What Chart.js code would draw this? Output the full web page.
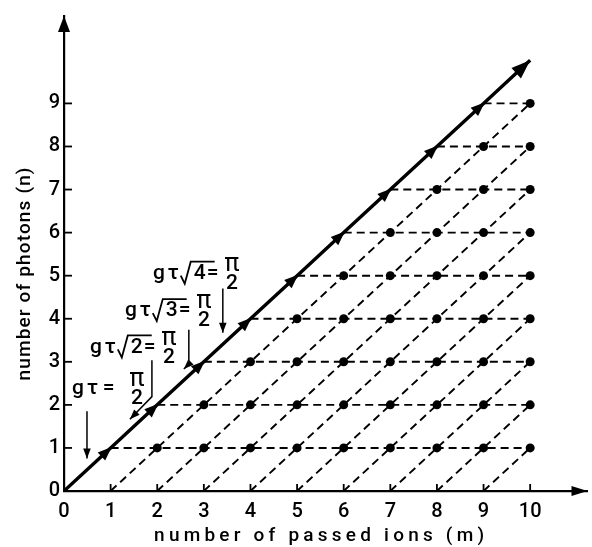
<!DOCTYPE html>
<html><head><meta charset="utf-8">
<script src="https://cdn.jsdelivr.net/npm/chart.js@4.4.1/dist/chart.umd.min.js"></script>
<style>html,body{margin:0;padding:0;background:#fff}#wrap{position:relative;width:592px;height:547px}</style>
</head><body><div id="wrap"><canvas id="c" width="592" height="547"></canvas></div>
<script>
// ---- data ----
const xTickValues = [0, 1, 2, 3, 4, 5, 6, 7, 8, 9, 10];
const yTickValues = [0, 1, 2, 3, 4, 5, 6, 7, 8, 9];
const mainPathIons = [0, 1, 2, 3, 4, 5, 6, 7, 8, 9, 10];
const mainPathPhotons = [0, 1, 2, 3, 4, 5, 6, 7, 8, 9, 10];
const photonLevels = [1, 2, 3, 4, 5, 6, 7, 8, 9];     // horizontal dashed rows start on the diagonal
const ionStarts = [1, 2, 3, 4, 5, 6, 7, 8, 9];        // diagonal dashed lines start on the m axis
const lastIon = 10;
const dotIonsByLevel = [
  [2, 3, 4, 5, 6, 7, 8, 9, 10],
  [3, 4, 5, 6, 7, 8, 9, 10],
  [4, 5, 6, 7, 8, 9, 10],
  [5, 6, 7, 8, 9, 10],
  [6, 7, 8, 9, 10],
  [7, 8, 9, 10],
  [8, 9, 10],
  [9, 10],
  [10]
];
const resonanceRoots = ['', '2', '3', '4'];
const xTitle = 'number of passed ions (m)';
const yTitle = 'number of photons (n)';

// ---- chart ----
const FONT = 'Roboto, "Liberation Sans", Arial, sans-serif';
Chart.defaults.font.family = FONT;
Chart.defaults.color = '#000';

const datasets = [];
datasets.push({
  data: mainPathIons.map((m, i) => ({ x: m, y: mainPathPhotons[i] })),
  showLine: true, borderColor: '#000', borderWidth: 3.4, pointRadius: 0, order: 0
});
const dots = [];
photonLevels.forEach((n, i) => dotIonsByLevel[i].forEach(m => dots.push({ x: m, y: n })));
datasets.push({
  data: dots, showLine: false, pointRadius: 4.5, pointBackgroundColor: '#000',
  pointBorderWidth: 0, order: 1
});
photonLevels.forEach(n => datasets.push({
  data: [{ x: n, y: n }, { x: lastIon, y: n }],
  showLine: true, borderColor: '#000', borderWidth: 1.9, borderDash: [8, 5], pointRadius: 0, order: 2
}));
ionStarts.forEach(k => datasets.push({
  data: [{ x: k, y: 0 }, { x: lastIon, y: lastIon - k }],
  showLine: true, borderColor: '#000', borderWidth: 1.9, borderDash: [8, 5], pointRadius: 0, order: 2
}));

function arrowHead(ctx, tx, ty, dx, dy, len, hw) {
  const d = Math.hypot(dx, dy); const ux = dx / d, uy = dy / d;
  const bx = tx - ux * len, by = ty - uy * len;
  ctx.beginPath();
  ctx.moveTo(tx, ty);
  ctx.lineTo(bx - uy * hw, by + ux * hw);
  ctx.lineTo(bx + uy * hw, by - ux * hw);
  ctx.closePath();
  ctx.fill();
}

function spacedText(ctx, text, cx, cy, target) {
  const nat = ctx.measureText(text).width;
  const n = text.length;
  const sp = (target - nat) / (n - 1);
  if ('letterSpacing' in ctx) {
    ctx.letterSpacing = sp + 'px';
    ctx.textAlign = 'left';
    ctx.fillText(text, cx - target / 2, cy);
    ctx.letterSpacing = '0px';
  } else {
    let x = cx - target / 2;
    ctx.textAlign = 'left';
    for (const ch of text) { ctx.fillText(ch, x, cy); x += ctx.measureText(ch).width + sp; }
  }
}

function drawFormula(ctx, x, yMid, root) {
  ctx.save();
  const F = '500 21px ' + FONT;
  ctx.font = F;
  ctx.textBaseline = 'middle';
  ctx.textAlign = 'left';
  ctx.fillText('g', x, yMid);
  x += ctx.measureText('g').width + 3;
  ctx.fillText('τ', x, yMid);
  x += ctx.measureText('τ').width + 2;
  if (root) {
    const w = ctx.measureText(root).width;
    ctx.lineWidth = 1.8;
    ctx.beginPath();
    ctx.moveTo(x, yMid + 2);
    ctx.lineTo(x + 4, yMid + 10);
    ctx.lineTo(x + 10, yMid - 12);
    ctx.lineTo(x + 10 + w + 12, yMid - 12);
    ctx.stroke();
    ctx.fillText(root, x + 13, yMid);
    x += 13 + w + 1;
  } else {
    x += 3;
  }
  ctx.fillText('=', x, yMid);
  x += ctx.measureText('=').width + (root ? 5 : 14);
  ctx.font = '400 25px ' + FONT;
  const pw = ctx.measureText('π').width;
  ctx.textAlign = 'center';
  ctx.fillText('π', x + pw / 2 + 1, yMid - 9);
  ctx.font = F;
  ctx.fillText('2', x + pw / 2 + 1, yMid + 10);
  ctx.restore();
}

const decor = {
  id: 'decor',
  afterDraw(chart) {
    const ctx = chart.ctx;
    const xs = chart.scales.x, ys = chart.scales.y;
    const X = v => xs.getPixelForValue(v), Y = v => ys.getPixelForValue(v);
    ctx.save();
    ctx.fillStyle = '#000'; ctx.strokeStyle = '#000';
    // inner tick marks
    ctx.lineWidth = 1.8;
    xTickValues.slice(1).forEach(v => { ctx.beginPath(); ctx.moveTo(X(v), Y(0)); ctx.lineTo(X(v), Y(0) - 7); ctx.stroke(); });
    yTickValues.slice(1).forEach(v => { ctx.beginPath(); ctx.moveTo(X(0), Y(v)); ctx.lineTo(X(0) + 8, Y(v)); ctx.stroke(); });
    // axis arrows
    arrowHead(ctx, xs.right, Y(0), 1, 0, 16, 5);
    arrowHead(ctx, X(0), ys.top, 0, -1, 16, 6);
    // arrows along the main diagonal
    const pts = chart.getDatasetMeta(0).data;
    for (let i = 1; i < pts.length; i++) {
      const p = pts[i], q = pts[i - 1];
      const dx = p.x - q.x, dy = p.y - q.y, d = Math.hypot(dx, dy);
      if (i === pts.length - 1) arrowHead(ctx, p.x, p.y, dx, dy, 19, 7);
      else arrowHead(ctx, p.x + dx / d * 1.5, p.y + dy / d * 1.5, dx, dy, 14, 5.5);
    }
    // axis titles
    ctx.font = '500 19px ' + FONT;
    ctx.textBaseline = 'alphabetic';
    spacedText(ctx, xTitle, (X(0) + X(10)) / 2 + 22, 541, 330);
    ctx.save();
    ctx.translate(30, 274);
    ctx.rotate(-Math.PI / 2);
    spacedText(ctx, yTitle, 0, 0, 213);
    ctx.restore();
    // resonance annotations
    const ann = [
      { tx: 0.171, ty: 2.374, path: [[0.493, 1.849], [0.493, 0.753]] },
      { tx: 0.557, ty: 3.333, path: [[1.886, 3.037], [1.886, 2.192], [1.414, 1.667]] },
      { tx: 1.307, ty: 4.178, path: [[2.678, 3.744], [2.678, 2.945], [2.571, 2.831]] },
      { tx: 1.907, ty: 5.046, path: [[3.407, 4.703], [3.407, 3.676]] }
    ];
    ann.forEach((a, i) => {
      drawFormula(ctx, X(a.tx), Y(a.ty), resonanceRoots[i]);
      ctx.lineWidth = 1.5;
      ctx.beginPath();
      a.path.forEach((p, j) => j ? ctx.lineTo(X(p[0]), Y(p[1])) : ctx.moveTo(X(p[0]), Y(p[1])));
      const n = a.path.length;
      const t = a.path[n - 1], s = a.path[n - 2];
      ctx.stroke();
      arrowHead(ctx, X(t[0]), Y(t[1]), X(t[0]) - X(s[0]), Y(t[1]) - Y(s[1]), 10, 3.8);
    });
    ctx.restore();
  }
};

new Chart(document.getElementById('c'), {
  type: 'scatter',
  data: { datasets },
  options: {
    responsive: false, animation: false,
    layout: { padding: { top: 8, right: 4, left: 0, bottom: 0 } },
    plugins: { legend: { display: false }, tooltip: { enabled: false } },
    scales: {
      x: {
        type: 'linear', min: 0, max: 11.23,
        afterBuildTicks: s => { s.ticks = xTickValues.map(v => ({ value: v })); },
        afterFit: s => { s.height = 56; },
        grid: { display: false, drawTicks: false },
        border: { display: true, color: '#000', width: 2.2 },
        ticks: { font: { size: 20, weight: '500' }, color: '#000', padding: 9, maxRotation: 0, autoSkip: false }
      },
      y: {
        type: 'linear', min: 0, max: 11.03,
        afterBuildTicks: s => { s.ticks = yTickValues.map(v => ({ value: v })); },
        afterFit: s => { s.width = 64; },
        grid: { display: false, drawTicks: false },
        border: { display: true, color: '#000', width: 2.2 },
        ticks: { font: { size: 20, weight: '500' }, color: '#000', padding: 4, autoSkip: false }
      }
    }
  },
  plugins: [decor]
});
</script>
</body></html>
